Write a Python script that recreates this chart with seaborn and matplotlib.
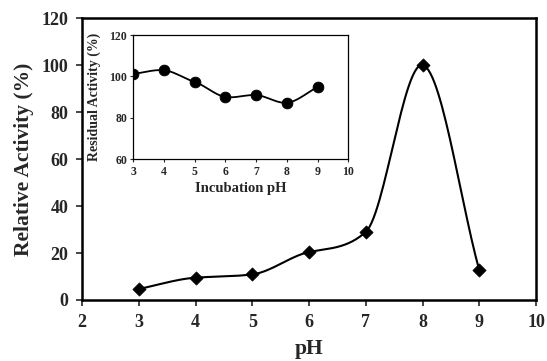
import numpy as np
import pandas as pd
import matplotlib
matplotlib.use("Agg")
import matplotlib.pyplot as plt
import seaborn as sns

ph = [3, 4, 5, 6, 7, 8, 9]
relative_activity = [4.7, 9.5, 10.9, 20.4, 29.0, 100.0, 12.6]
incubation_ph = [3, 4, 5, 6, 7, 8, 9]
residual_activity = [101.2, 103.0, 97.3, 90.1, 91.0, 87.3, 94.9]


def smooth(x, y, c=0.5, n=30):
    # cubic Hermite through the points, tangents scaled down to limit overshoot
    x = np.asarray(x, float)
    y = np.asarray(y, float)
    m = np.zeros_like(y)
    m[1:-1] = c * (y[2:] - y[:-2]) / (x[2:] - x[:-2])
    m[0] = (y[1] - y[0]) / (x[1] - x[0])
    m[-1] = (y[-1] - y[-2]) / (x[-1] - x[-2])
    xs, ys = [], []
    t = np.linspace(0, 1, n)
    for i in range(len(x) - 1):
        h = x[i + 1] - x[i]
        h00 = 2 * t ** 3 - 3 * t ** 2 + 1
        h10 = t ** 3 - 2 * t ** 2 + t
        h01 = -2 * t ** 3 + 3 * t ** 2
        h11 = t ** 3 - t ** 2
        xs.extend(x[i] + t * h)
        ys.extend(h00 * y[i] + h10 * h * m[i] + h01 * y[i + 1] + h11 * h * m[i + 1])
    return pd.DataFrame({"x": xs, "y": ys})


sns.set_style("ticks")
plt.rcParams["font.family"] = ["Liberation Serif", "DejaVu Serif"]
plt.rcParams["font.weight"] = "bold"

fig = plt.figure(figsize=(5.47, 3.61), dpi=100)
ax = fig.add_axes([0.15, 0.169, 0.830, 0.781])

main_df = pd.DataFrame({"pH": ph, "act": relative_activity})
sns.lineplot(data=smooth(ph, relative_activity, c=0.55), x="x", y="y", sort=False,
             color="black", linewidth=1.5, ax=ax)
sns.scatterplot(data=main_df, x="pH", y="act", marker="D", s=45,
                color="black", edgecolor="black", ax=ax, zorder=3)
ax.set_xlim(2, 10)
ax.set_ylim(0, 120)
ax.set_xticks(range(2, 11))
ax.set_yticks(range(0, 121, 20))
ax.set_xlabel("pH", fontsize=15.5, fontweight="bold", labelpad=6)
ax.set_ylabel("Relative Activity (%)", fontsize=15.5, fontweight="bold", labelpad=5)
ax.tick_params(labelsize=13, length=4, width=1.2, direction="out", pad=6)
for lab in ax.get_xticklabels() + ax.get_yticklabels():
    lab.set_fontweight("bold")
for sp in ax.spines.values():
    sp.set_visible(True)
    sp.set_linewidth(1.8)
    sp.set_color("black")

inset = fig.add_axes([0.2437, 0.5587, 0.393, 0.3443])
inset_df = pd.DataFrame({"pH": incubation_ph, "act": residual_activity})
sns.lineplot(data=smooth(incubation_ph, residual_activity, c=0.7), x="x", y="y", sort=False,
             color="black", linewidth=1.3, ax=inset)
sns.scatterplot(data=inset_df, x="pH", y="act", marker="o", s=60,
                color="black", edgecolor="black", ax=inset, zorder=3)
inset.set_xlim(3, 10)
inset.set_ylim(60, 120)
inset.set_xticks(range(3, 11))
inset.set_yticks(range(60, 121, 20))
inset.set_xlabel("Incubation pH", fontsize=10.5, fontweight="bold", labelpad=3)
inset.set_ylabel("Residual Activity (%)", fontsize=10, fontweight="bold", labelpad=6)
inset.tick_params(labelsize=8.5, length=2.5, width=0.8, direction="out", pad=2)
for lab in inset.get_xticklabels() + inset.get_yticklabels():
    lab.set_fontweight("bold")
for sp in inset.spines.values():
    sp.set_visible(True)
    sp.set_linewidth(0.9)
    sp.set_color("black")

fig.savefig("out.png", dpi=100)
